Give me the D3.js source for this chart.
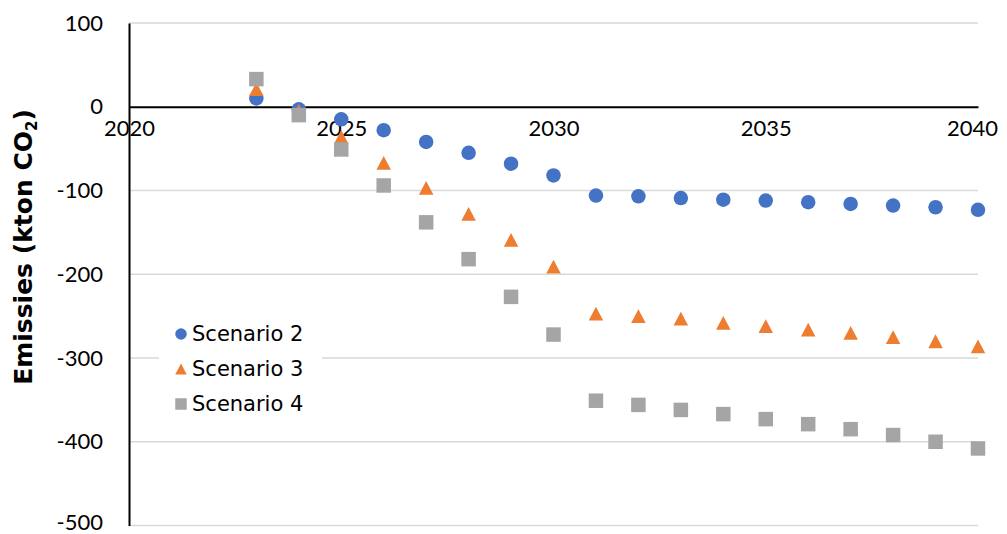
<!DOCTYPE html>
<html>
<head>
<meta charset="utf-8">
<script src="https://cdn.jsdelivr.net/npm/d3@7"></script>
<style>
  html, body { margin: 0; padding: 0; background: #fff; }
  svg { display: block; }
</style>
</head>
<body>
<svg id="chart" width="1007" height="534"></svg>
<script>
// Annual emissions per scenario (kton CO2)
const years = [2023, 2024, 2025, 2026, 2027, 2028, 2029, 2030, 2031, 2032, 2033, 2034, 2035, 2036, 2037, 2038, 2039, 2040];
const scenario2 = [10, -3, -15, -28, -42, -55, -68, -82, -106, -107, -109, -111, -112, -114, -116, -118, -120, -123];
const scenario3 = [21, -5, -36, -67, -97, -128, -159, -191, -247, -250, -253, -258, -262, -266, -270, -275, -280, -286];
const scenario4 = [33, -10, -51, -94, -138, -182, -227, -272, -351, -356, -362, -367, -373, -379, -385, -392, -400, -408];
const seriesNames = ["Scenario 2", "Scenario 3", "Scenario 4"];
const xTicks = [2020, 2025, 2030, 2035, 2040];
const yTicks = [100, 0, -100, -200, -300, -400, -500];

const colors = ["#4472C4", "#ED7D31", "#A5A5A5"];

// symbol types sized by box width
const symCircle = { draw(ctx, s) { const r = s / 2; ctx.moveTo(r, 0); ctx.arc(0, 0, r, 0, 2 * Math.PI); } };
const symTriangle = { draw(ctx, s) { const h = s * 0.95, w = s; ctx.moveTo(0, -h / 2); ctx.lineTo(w / 2, h / 2); ctx.lineTo(-w / 2, h / 2); ctx.closePath(); } };
const symSquare = { draw(ctx, s) { const h = s / 2; ctx.rect(-h, -h, s, s); } };
const symbols = [symCircle, symTriangle, symSquare];

const series = [scenario2, scenario3, scenario4].map((vals, i) => ({
  name: seriesNames[i],
  color: colors[i],
  symbol: symbols[i],
  points: years.map((y, j) => ({ year: y, value: vals[j] }))
}));

const svg = d3.select("#chart");
const x = d3.scaleLinear().domain([2020, 2040]).range([129, 978]);
const y = d3.scaleLinear().domain([-500, 100]).range([525.5, 23]);

const tickFont = "Lato, 'Open Sans', sans-serif";
const plainNumber = d => String(d);

// horizontal gridlines
svg.append("g")
  .selectAll("line")
  .data(yTicks.filter(t => t !== 0))
  .join("line")
  .attr("x1", x(2020)).attr("x2", x(2040))
  .attr("y1", d => y(d)).attr("y2", d => y(d))
  .attr("stroke", "#d9d9d9").attr("stroke-width", 1.5);

// y axis
const yAxis = svg.append("g")
  .attr("transform", `translate(${x(2020)},0)`)
  .call(d3.axisLeft(y).tickValues(yTicks).tickSize(0).tickPadding(26).tickFormat(plainNumber));
yAxis.select(".domain").attr("stroke", "#000").attr("stroke-width", 2);
yAxis.selectAll("text")
  .attr("font-family", tickFont).attr("font-size", 22).attr("fill", "#000")
  .attr("dy", d => d === -500 ? "0.2em" : "0.32em");

// x axis along zero
const xAxis = svg.append("g")
  .attr("transform", `translate(0,${y(0)})`)
  .call(d3.axisBottom(x).tickValues(xTicks).tickSize(0).tickPadding(14).tickFormat(plainNumber));
xAxis.select(".domain").attr("stroke", "#000").attr("stroke-width", 2);
xAxis.selectAll("text")
  .attr("font-family", tickFont).attr("font-size", 22).attr("fill", "#000")
  .attr("dx", d => d === 2040 ? -6 : 0);

// y axis title
svg.append("text")
  .attr("transform", `translate(32,${247}) rotate(-90)`)
  .attr("text-anchor", "middle")
  .attr("font-family", "'DejaVu Sans', Verdana, sans-serif")
  .attr("font-weight", "bold")
  .attr("font-size", 25)
  .attr("fill", "#000")
  .call(t => {
    t.append("tspan").text("Emissies (kton CO");
    t.append("tspan").attr("font-size", 15).attr("dy", 5).text("2");
    t.append("tspan").attr("dy", -5).text(")");
  });

// data markers
const sym = d3.symbol();
series.forEach(s => {
  svg.append("g")
    .selectAll("path")
    .data(s.points)
    .join("path")
    .attr("transform", d => `translate(${x(d.year)},${y(d.value)})`)
    .attr("d", sym.type(s.symbol).size(14.5)())
    .attr("fill", s.color);
});

// legend
const legend = svg.append("g");
legend.append("rect")
  .attr("x", 159).attr("y", 318).attr("width", 163).attr("height", 104)
  .attr("fill", "#fff");
const items = legend.selectAll("g.item")
  .data(series)
  .join("g")
  .attr("class", "item")
  .attr("transform", (d, i) => `translate(181,${334 + i * 35})`);
items.append("path")
  .attr("d", d => d3.symbol().type(d.symbol).size(11.5)())
  .attr("fill", d => d.color);
items.append("text")
  .attr("x", 11).attr("y", 7)
  .attr("font-family", "'DejaVu Sans', Verdana, sans-serif")
  .attr("font-size", 21)
  .attr("fill", "#000")
  .text(d => d.name);
</script>
</body>
</html>
